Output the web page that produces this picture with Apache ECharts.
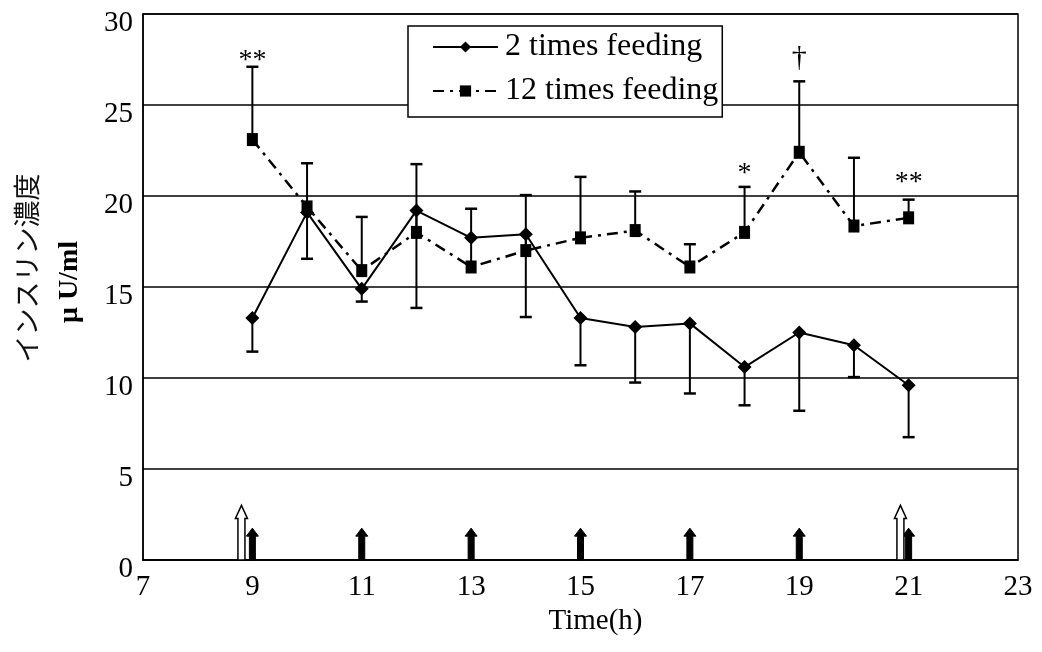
<!DOCTYPE html>
<html>
<head>
<meta charset="utf-8">
<script src="https://cdn.jsdelivr.net/npm/echarts@6/dist/echarts.min.js"></script>
<style>
  html, body { margin: 0; padding: 0; background: #fff; }
  #main { width: 1042px; height: 652px; }
</style>
</head>
<body>
<div id="main"></div>
<script>
// sampling times (h)
var hours = [9, 10, 11, 12, 13, 14, 15, 16, 17, 18, 19, 20, 21];
// 2 times feeding: mean and lower end of error bar
var twoTimes      = [13.3, 19.1, 14.9, 19.2, 17.7, 17.9, 13.3, 12.8, 13.0, 10.6, 12.5, 11.8, 9.6];
var twoTimesLower = [11.45, 16.55, 14.2, 13.85, null, 13.35, 10.7, 9.75, 9.15, 8.5, 8.2, 10.05, 6.75];
// 12 times feeding: mean and upper end of error bar
var twelveTimes      = [23.1, 19.4, 15.9, 18.0, 16.1, 17.0, 17.7, 18.1, 16.1, 18.0, 22.4, 18.35, 18.8];
var twelveTimesUpper = [27.1, 21.8, 18.85, 21.75, 19.3, 20.05, 21.05, 20.25, 17.35, 20.5, 26.3, 22.1, 19.8];
// significance marks
var sigHours = [9, 18, 19, 21];
var sigText  = ['**', '*', '\u2020', '**'];
var sigLevel = [27.45, 21.25, 27.6, 20.75];
// feeding arrows
var filledArrowHours  = [9, 11, 13, 15, 17, 19, 21];
var filledArrowHeight = 1.75;
var openArrowHours    = [8.8, 20.85];
var openArrowHeight   = 3.0;

var serif = '"Liberation Serif", "Times New Roman", serif';

function errorBar(params, api) {
    var x = api.value(0);
    var a = api.coord([x, api.value(1)]);
    var b = api.coord([x, api.value(2)]);
    return {
        type: 'group',
        children: [
            { type: 'line', shape: { x1: a[0], y1: a[1], x2: b[0], y2: b[1] }, style: { stroke: '#000', lineWidth: 2 } },
            { type: 'line', shape: { x1: b[0] - 6, y1: b[1], x2: b[0] + 6, y2: b[1] }, style: { stroke: '#000', lineWidth: 2.5 } }
        ]
    };
}

function arrow(params, api) {
    var x = api.value(0);
    var base = api.coord([x, 0]);
    var tip = api.coord([x, api.value(1)]);
    var open = api.value(2) === 1;
    var cx = base[0];
    var head = open ? 13 : 8;
    var hw = 6, sw = open ? 3.5 : 3;
    var pts = [
        [cx - sw, base[1]], [cx - sw, tip[1] + head], [cx - hw, tip[1] + head], [cx, tip[1]],
        [cx + hw, tip[1] + head], [cx + sw, tip[1] + head], [cx + sw, base[1]]
    ];
    return {
        type: 'polygon',
        shape: { points: pts },
        style: open ? { fill: '#fff', stroke: '#000', lineWidth: 1.5 } : { fill: '#000', stroke: '#000', lineWidth: 1 }
    };
}

function sigLabel(params, api) {
    var p = api.coord([api.value(0), api.value(1)]);
    var t = sigText[params.dataIndex];
    return {
        type: 'text',
        x: p[0],
        y: p[1],
        style: {
            text: t,
            fontSize: t === '\u2020' ? 30 : 28,
            fontFamily: serif,
            fill: '#000',
            align: 'center',
            verticalAlign: 'middle'
        }
    };
}

var twoData = hours.map(function (h, i) { return [h, twoTimes[i]]; });
var twelveData = hours.map(function (h, i) { return [h, twelveTimes[i]]; });
var errData = [];
hours.forEach(function (h, i) {
    if (twoTimesLower[i] != null) errData.push([h, twoTimes[i], twoTimesLower[i]]);
    if (twelveTimesUpper[i] != null) errData.push([h, twelveTimes[i], twelveTimesUpper[i]]);
});
var arrowData = filledArrowHours.map(function (h) { return [h, filledArrowHeight, 0]; })
    .concat(openArrowHours.map(function (h) { return [h, openArrowHeight, 1]; }));
var sigData = sigHours.map(function (h, i) { return [h, sigLevel[i]]; });

var myChart = echarts.init(document.getElementById('main'));
var option = {
    animation: false,
    grid: {
        left: 143, right: 24, top: 14, bottom: 92,
        show: true, borderColor: '#000', borderWidth: 1.5, backgroundColor: 'transparent'
    },
    legend: {
        data: ['2 times feeding', '12 times feeding'],
        orient: 'vertical',
        left: 408,
        top: 26,
        itemWidth: 65,
        itemHeight: 14,
        itemGap: 12,
        padding: [5, 4, 10, 24],
        borderColor: '#000',
        borderWidth: 1.5,
        backgroundColor: '#fff',
        textStyle: { fontFamily: serif, fontSize: 32, color: '#000', padding: [0, 0, 0, 2] }
    },
    xAxis: {
        type: 'value',
        min: 7,
        max: 23,
        interval: 2,
        name: 'Time(h)',
        nameLocation: 'middle',
        nameGap: 42,
        nameTextStyle: { fontFamily: serif, fontSize: 29, color: '#000', padding: [0, 0, 0, 30] },
        axisLine: { lineStyle: { color: '#000', width: 1.5 } },
        axisTick: { show: false },
        splitLine: { show: false },
        axisLabel: { fontFamily: serif, fontSize: 29, color: '#000', margin: 13 }
    },
    yAxis: {
        type: 'value',
        min: 0,
        max: 30,
        interval: 5,
        axisLine: { show: true, lineStyle: { color: '#000', width: 1.5 } },
        axisTick: { show: false },
        splitLine: { lineStyle: { color: '#000', width: 1.5 } },
        axisLabel: { fontFamily: serif, fontSize: 29, color: '#000', margin: 10, verticalAlign: 'top', lineHeight: 18 }
    },
    graphic: [
        {
            type: 'text', x: 27, y: 268, rotation: Math.PI / 2,
            style: { text: 'インスリン濃度', fontSize: 27, fontFamily: '"Noto Sans CJK JP"', fontWeight: 400, fill: '#111', align: 'center', verticalAlign: 'middle' }
        },
        {
            type: 'text', x: 70, y: 282, rotation: Math.PI / 2,
            style: { text: 'μ U/ml', fontSize: 28, fontFamily: serif, fontWeight: 'bold', fill: '#000', align: 'center', verticalAlign: 'middle' }
        }
    ],
    series: [
        {
            type: 'custom',
            name: 'arrows',
            renderItem: arrow,
            data: arrowData,
            z: 3
        },
        {
            type: 'custom',
            name: 'errors',
            renderItem: errorBar,
            data: errData,
            z: 3
        },
        {
            name: '2 times feeding',
            type: 'line',
            data: twoData,
            symbol: 'diamond',
            symbolSize: 14,
            lineStyle: { color: '#000', width: 2 },
            itemStyle: { color: '#000' },
            z: 4
        },
        {
            name: '12 times feeding',
            type: 'line',
            data: twelveData,
            symbol: 'rect',
            symbolSize: [11, 13],
            lineStyle: { color: '#000', width: 2.5, type: [11, 6, 3, 6] },
            itemStyle: { color: '#000' },
            z: 4
        },
        {
            type: 'custom',
            name: 'marks',
            renderItem: sigLabel,
            data: sigData,
            z: 5
        }
    ]
};
myChart.setOption(option);
</script>
</body>
</html>
